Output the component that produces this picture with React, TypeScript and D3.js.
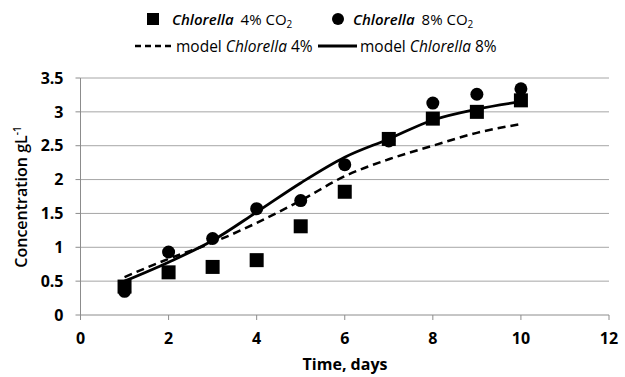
import { useRef, useEffect } from 'react';
import * as d3 from 'd3';

const days = [1, 2, 3, 4, 5, 6, 7, 8, 9, 10];
const chlorella4 = [0.42, 0.63, 0.71, 0.81, 1.31, 1.82, 2.6, 2.9, 3.0, 3.17];
const chlorella8 = [0.35, 0.93, 1.13, 1.57, 1.69, 2.22, 2.57, 3.13, 3.26, 3.34];
const model4 = [0.56, 0.83, 1.07, 1.36, 1.69, 2.05, 2.3, 2.5, 2.69, 2.82];
const model8 = [0.5, 0.78, 1.1, 1.52, 1.95, 2.33, 2.6, 2.88, 3.04, 3.15];
const xTicks = [0, 2, 4, 6, 8, 10, 12];
const yTicks = [0, 0.5, 1, 1.5, 2, 2.5, 3, 3.5];

const FONT = '"Open Sans", sans-serif';

export default function App() {
  const svgRef = useRef<SVGSVGElement>(null);

  useEffect(() => {
    if (!svgRef.current) return;
    const svg = d3.select(svgRef.current);
    svg.selectAll('*').remove();

    const x = d3.scaleLinear().domain([0, 12]).range([80.5, 609]);
    const y = d3.scaleLinear().domain([0, 3.5]).range([315, 78]);

    // Gridlines
    svg.append('g')
      .selectAll('line')
      .data(yTicks.slice(1))
      .join('line')
      .attr('x1', x(0)).attr('x2', x(12))
      .attr('y1', d => y(d)).attr('y2', d => y(d))
      .attr('stroke', '#a6a6a6').attr('stroke-width', 1);

    // Axes
    const axisColor = '#8c8c8c';
    svg.append('line')
      .attr('x1', x(0)).attr('x2', x(12)).attr('y1', y(0)).attr('y2', y(0))
      .attr('stroke', axisColor);
    svg.append('line')
      .attr('x1', x(0)).attr('x2', x(0)).attr('y1', y(0)).attr('y2', y(3.5))
      .attr('stroke', axisColor);

    svg.append('g').selectAll('line').data(xTicks).join('line')
      .attr('x1', d => x(d)).attr('x2', d => x(d))
      .attr('y1', y(0)).attr('y2', y(0) + 5)
      .attr('stroke', axisColor);
    svg.append('g').selectAll('line').data(yTicks).join('line')
      .attr('x1', x(0) - 5).attr('x2', x(0))
      .attr('y1', d => y(d)).attr('y2', d => y(d))
      .attr('stroke', axisColor);

    // Tick labels
    svg.append('g').selectAll('text').data(xTicks).join('text')
      .attr('x', d => x(d)).attr('y', y(0) + 29)
      .attr('text-anchor', 'middle')
      .attr('font-family', FONT).attr('font-weight', 'bold').attr('font-size', 16)
      .attr('fill', '#000')
      .text(d => d);
    svg.append('g').selectAll('text').data(yTicks).join('text')
      .attr('x', x(0) - 17).attr('y', d => y(d)).attr('dy', '0.36em')
      .attr('text-anchor', 'end')
      .attr('font-family', FONT).attr('font-weight', 'bold').attr('font-size', 16)
      .attr('fill', '#000')
      .text(d => d);

    // Axis titles
    svg.append('text')
      .attr('x', 345).attr('y', 370)
      .attr('text-anchor', 'middle')
      .attr('font-family', FONT).attr('font-weight', 'bold').attr('font-size', 16)
      .text('Time, days');
    const yt = svg.append('text')
      .attr('transform', 'translate(27,197) rotate(-90)')
      .attr('text-anchor', 'middle')
      .attr('font-family', FONT).attr('font-weight', 600).attr('font-size', 16);
    yt.append('tspan').text('Concentration gL');
    yt.append('tspan').attr('font-size', 10).attr('dy', -6).text('-1');

    // Model lines
    const line = d3.line<number>()
      .x((_, i) => x(days[i]))
      .y(d => y(d))
      .curve(d3.curveMonotoneX);
    svg.append('path').attr('d', line(model4)!)
      .attr('fill', 'none').attr('stroke', '#000').attr('stroke-width', 2.5)
      .attr('stroke-dasharray', '8,5');
    svg.append('path').attr('d', line(model8)!)
      .attr('fill', 'none').attr('stroke', '#000').attr('stroke-width', 2.8);

    // Markers
    const sq = 14;
    svg.append('g').selectAll('rect').data(chlorella4).join('rect')
      .attr('x', (_, i) => x(days[i]) - sq / 2)
      .attr('y', d => y(d) - sq / 2)
      .attr('width', sq).attr('height', sq)
      .attr('fill', '#000');
    svg.append('g').selectAll('circle').data(chlorella8).join('circle')
      .attr('cx', (_, i) => x(days[i]))
      .attr('cy', d => y(d))
      .attr('r', 6.5)
      .attr('fill', '#000');

    // Legend
    const lg = svg.append('g').attr('font-family', FONT).attr('font-size', 15).attr('fill', '#000');
    lg.append('rect').attr('x', 147).attr('y', 13).attr('width', 12).attr('height', 12).attr('fill', '#000');
    const t1 = lg.append('text').attr('x', 172).attr('y', 25);
    t1.append('tspan').attr('font-style', 'italic').attr('font-weight', 600).text('Chlorella');
    t1.append('tspan').attr('dx', 7).text('4% CO');
    t1.append('tspan').attr('font-size', 10).attr('dy', 3).text('2');

    lg.append('circle').attr('cx', 338).attr('cy', 19).attr('r', 6).attr('fill', '#000');
    const t2 = lg.append('text').attr('x', 353).attr('y', 25);
    t2.append('tspan').attr('font-style', 'italic').attr('font-weight', 600).text('Chlorella');
    t2.append('tspan').attr('dx', 7).text('8% CO');
    t2.append('tspan').attr('font-size', 10).attr('dy', 3).text('2');

    lg.append('line').attr('x1', 135).attr('x2', 172).attr('y1', 46).attr('y2', 46)
      .attr('stroke', '#000').attr('stroke-width', 2.5).attr('stroke-dasharray', '6,4');
    const t3 = lg.append('text').attr('x', 176).attr('y', 52).attr('font-size', 15.5);
    t3.append('tspan').text('model ');
    t3.append('tspan').attr('font-style', 'italic').text('Chlorella');
    t3.append('tspan').text(' 4%');

    lg.append('line').attr('x1', 318).attr('x2', 357).attr('y1', 46).attr('y2', 46)
      .attr('stroke', '#000').attr('stroke-width', 2.8);
    const t4 = lg.append('text').attr('x', 360).attr('y', 52).attr('font-size', 15.5);
    t4.append('tspan').text('model ');
    t4.append('tspan').attr('font-style', 'italic').text('Chlorella');
    t4.append('tspan').text(' 8%');
  }, []);

  return (
    <svg ref={svgRef} width={625} height={377}
      style={{ position: 'absolute', left: 0, top: 0, background: '#fff' }} />
  );
}
